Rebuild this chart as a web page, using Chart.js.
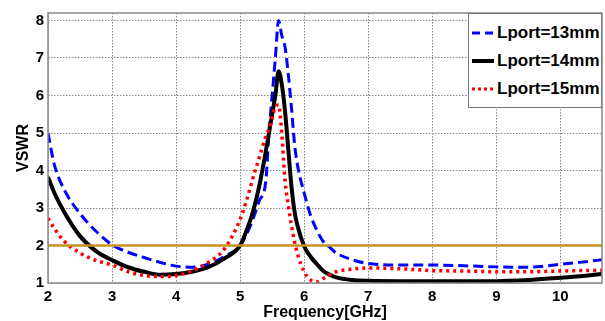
<!DOCTYPE html>
<html lang="en">
<head>
  <meta charset="UTF-8">
  <title>VSWR vs Frequency</title>
  <script src="https://cdn.jsdelivr.net/npm/chart.js"></script>
  <style>
    body {
      margin: 0;
      background: #fff;
      font-family: "Liberation Sans", Arial, sans-serif;
    }
    #wrap {
      position: relative;
      width: 605px;
      height: 321px;
    }
    #legend {
      position: absolute;
      left: 468px;
      top: 13px;
      width: 134px;
      height: 95px;
      border: 1px solid #777;
      background: #fff;
      box-sizing: border-box;
    }
    .item {
      position: absolute;
      left: 3px;
      height: 20px;
      display: flex;
      align-items: center;
      font-weight: bold;
      font-size: 17px;
      color: #000;
    }
    .item svg {
      margin-right: 3px;
    }
  </style>
</head>
<body>
  <div id="wrap">
    <canvas id="vswrChart" width="605" height="321"></canvas>
    <div id="legend">
      <div class="item" style="top:9px">
        <svg width="22" height="6"><line x1="0" y1="3" x2="22" y2="3" stroke="#0000ff" stroke-width="3" stroke-dasharray="8,5"/></svg>Lport=13mm
      </div>
      <div class="item" style="top:37px">
        <svg width="22" height="6"><line x1="0" y1="3" x2="22" y2="3" stroke="#000" stroke-width="4"/></svg>Lport=14mm
      </div>
      <div class="item" style="top:65px">
        <svg width="22" height="6"><line x1="0" y1="3" x2="22" y2="3" stroke="#ff0000" stroke-width="3" stroke-dasharray="3,3"/></svg>Lport=15mm
      </div>
    </div>
  </div>

  <script>
    // frequency points in GHz
    const freq = [2, 2.1, 2.25, 2.5, 2.75, 3, 3.25, 3.5, 3.75, 4, 4.25, 4.5, 4.75, 5, 5.1, 5.2, 5.3, 5.4, 5.45, 5.5,
      5.55, 5.6, 5.65, 5.7, 5.75, 5.8, 5.85, 5.9, 6, 6.1, 6.2, 6.3, 6.4, 6.5, 6.75, 7, 7.5, 8, 8.5, 9, 9.5, 10, 10.3, 10.65];

    const lport13 = [5.0, 4.15, 3.5, 2.85, 2.38, 2.02, 1.82, 1.68, 1.55, 1.45, 1.42, 1.5, 1.7, 2.0, 2.3, 2.7, 3.2, 3.7, 5.0, 6.0,
      7.0, 8.0, 7.6, 7.3, 6.6, 5.7, 4.7, 4.1, 3.4, 2.8, 2.4, 2.1, 1.95, 1.8, 1.62, 1.52, 1.48, 1.48, 1.46, 1.43, 1.42, 1.5, 1.55, 1.62];

    const lport14 = [3.83, 3.4, 2.9, 2.25, 1.85, 1.61, 1.42, 1.3, 1.22, 1.24, 1.3, 1.42, 1.65, 2.0, 2.4, 2.9, 3.6, 4.5, 5.0, 5.5,
      6.0, 6.65, 6.3, 5.6, 4.6, 3.6, 2.9, 2.5, 1.98, 1.7, 1.5, 1.32, 1.22, 1.15, 1.08, 1.06, 1.05, 1.05, 1.05, 1.05, 1.08, 1.14, 1.18, 1.24];

    const lport15 = [2.73, 2.45, 2.12, 1.8, 1.6, 1.48, 1.3, 1.2, 1.17, 1.2, 1.32, 1.55, 1.9, 2.7, 3.2, 3.8, 4.35, 4.9, 5.1, 5.4,
      5.7, 5.75, 5.0, 3.75, 3.1, 2.55, 2.1, 1.75, 1.3, 1.08, 1.03, 1.12, 1.22, 1.3, 1.37, 1.4, 1.38, 1.33, 1.32, 1.3, 1.3, 1.32, 1.33, 1.34];

    // VSWR = 2 reference line
    const refFreq = [2, 10.65];
    const refVswr = [2, 2];

    const xTicks = [2, 3, 4, 5, 6, 7, 8, 9, 10];
    const yTicks = [1, 2, 3, 4, 5, 6, 7, 8];

    const pts = (xs, ys) => xs.map((x, i) => ({ x: x, y: ys[i] }));

    const tickFont = { family: '"Liberation Sans", Arial, sans-serif', size: 15, weight: 'bold' };
    const titleFont = { family: '"Liberation Sans", Arial, sans-serif', size: 16, weight: 'bold' };

    // box around the plot area
    const frame = {
      id: 'frame',
      afterDraw(chart) {
        const a = chart.chartArea;
        const ctx = chart.ctx;
        ctx.save();
        ctx.strokeStyle = '#888';
        ctx.lineWidth = 1.5;
        ctx.strokeRect(a.left, a.top, a.right - a.left, a.bottom - a.top);
        ctx.restore();
      }
    };

    new Chart(document.getElementById('vswrChart'), {
      type: 'line',
      data: {
        datasets: [
          {
            label: 'VSWR=2',
            data: pts(refFreq, refVswr),
            borderColor: '#c8921e',
            borderWidth: 2.5,
            pointRadius: 0
          },
          {
            label: 'Lport=15mm',
            data: pts(freq, lport15),
            borderColor: '#ff0000',
            borderWidth: 3.5,
            borderDash: [3, 4],
            pointRadius: 0,
            cubicInterpolationMode: 'monotone'
          },
          {
            label: 'Lport=14mm',
            data: pts(freq, lport14),
            borderColor: '#000000',
            borderWidth: 4,
            pointRadius: 0,
            cubicInterpolationMode: 'monotone'
          },
          {
            label: 'Lport=13mm',
            data: pts(freq, lport13),
            borderColor: '#0000ff',
            borderWidth: 3,
            borderDash: [10, 5],
            pointRadius: 0,
            cubicInterpolationMode: 'monotone'
          }
        ]
      },
      options: {
        responsive: false,
        animation: false,
        layout: { padding: { top: 13, right: 3, left: 0, bottom: 0 } },
        plugins: {
          legend: { display: false },
          tooltip: { enabled: false }
        },
        scales: {
          x: {
            type: 'linear',
            min: 2,
            max: 10.65,
            afterFit(scale) { scale.height = 38; },
            afterBuildTicks(scale) { scale.ticks = xTicks.map(v => ({ value: v })); },
            ticks: { font: tickFont, color: '#000', padding: 5, maxRotation: 0 },
            grid: { color: '#888', drawTicks: false, lineWidth: 1 },
            border: { display: false, dash: [1.5, 1.5] },
            title: { display: true, text: 'Frequency[GHz]', font: titleFont, color: '#000', padding: { top: 0, bottom: -1 } }
          },
          y: {
            min: 1,
            max: 8.2,
            afterFit(scale) { scale.width = 48; },
            afterBuildTicks(scale) { scale.ticks = yTicks.map(v => ({ value: v })); },
            ticks: { font: tickFont, color: '#000', padding: 4 },
            grid: { color: '#888', drawTicks: false, lineWidth: 1 },
            border: { display: false, dash: [1.5, 1.5] },
            title: { display: true, text: 'VSWR', font: titleFont, color: '#000', padding: { top: 14, bottom: 0 } }
          }
        }
      },
      plugins: [frame]
    });
  </script>
</body>
</html>
